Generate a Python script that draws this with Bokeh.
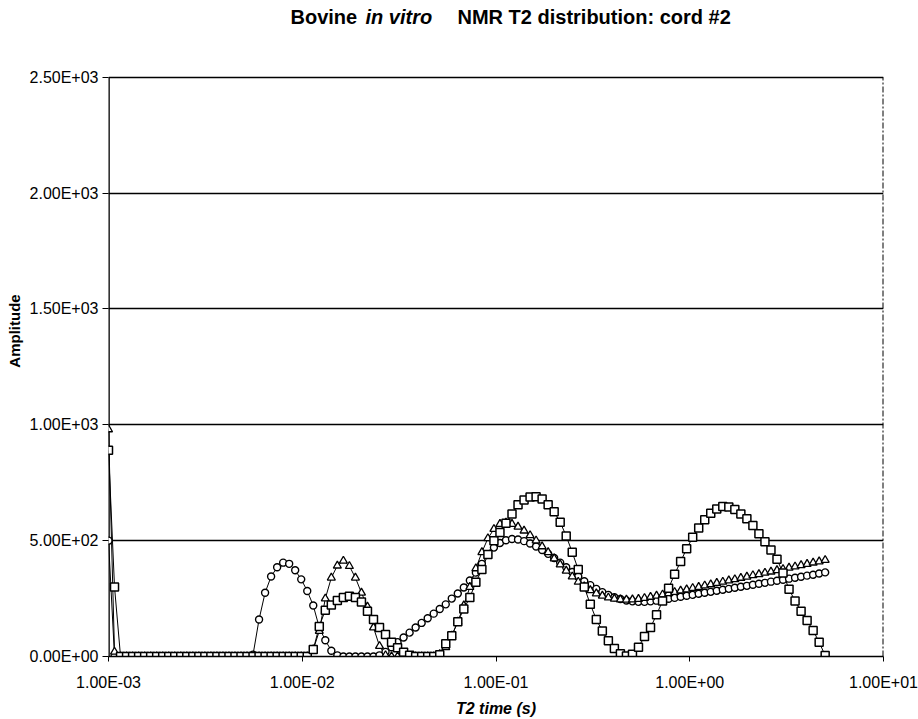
import numpy as np
from bokeh.plotting import figure
from bokeh.models import FixedTicker, ColumnDataSource
from bokeh.core.properties import value
from bokeh.embed import file_html
from bokeh.resources import INLINE

# T2 relaxation-time grid (log-spaced, 1 ms to 5 s)
t2_time = np.logspace(-3, np.log10(5.0), 120)

amp_circle = [
    500, 0,
    0, 0, 0, 0, 0, 0, 0, 0, 0, 0, 0, 0, 0, 0, 0, 0, 0, 0, 0, 0, 0, 0,
    8, 160, 275, 345, 385, 405, 400, 372, 333, 283, 220, 125, 70, 25, 5,
    0, 0, 0, 0, 0, 0,
    5, 20, 40, 62, 82, 103, 125, 145, 165, 185, 205, 225, 250, 272, 298,
    328, 362, 400, 440, 470, 490, 502, 507, 505, 498, 488, 475, 460, 443,
    425, 405, 385, 365, 345, 325, 308, 292, 278, 266, 256, 248, 242, 238,
    236, 236, 238, 241, 245, 249, 253, 258, 262, 266, 271, 275, 279, 284,
    288, 292, 297, 301, 305, 310, 314, 318, 323, 327, 331, 336, 340, 344,
    349, 353, 358, 363,
]

amp_triangle = [
    980, 20,
    0, 0, 0, 0, 0, 0, 0, 0, 0, 0, 0, 0, 0, 0, 0, 0, 0, 0, 0, 0, 0, 0,
    0, 0, 0, 0, 0, 0, 0, 0, 0, 0,
    30, 110, 250, 340, 392, 413, 390, 340, 275, 215, 125, 45, 5,
    0, 0, 0, 0, 0, 0, 0, 0,
    10, 40, 90, 150, 220, 300, 380, 450, 510, 550, 572, 578, 572, 560, 543,
    523, 500, 475, 450, 423, 397, 370, 345, 322, 302, 286, 272, 262, 254,
    249, 246, 245, 246, 248, 252, 257, 262, 267, 273, 278, 284, 289, 295,
    300, 306, 311, 317, 322, 328, 333, 339, 344, 350, 355, 361, 366, 372,
    377, 383, 388, 394, 399, 405, 410, 416,
]

amp_square = [
    890, 300,
    0, 0, 0, 0, 0, 0, 0, 0, 0, 0, 0, 0, 0, 0, 0, 0, 0, 0, 0, 0, 0, 0,
    0, 0, 0, 0, 0, 0, 0, 0, 0, 0,
    30, 130, 200, 222, 242, 255, 260, 255, 235, 195, 160, 125, 95, 62, 38,
    18, 5,
    0, 0, 0, 0,
    8, 55, 90, 150, 205, 255, 320, 375, 440, 500, 535, 575, 615, 655, 675,
    688, 690, 680, 655, 625, 580, 520, 450, 375, 300, 225, 160, 110, 68,
    35, 12, 2, 10, 40, 86, 125, 180, 240, 295, 355, 410, 465, 515, 555,
    590, 618, 637, 647, 645, 635, 615, 595, 565, 530, 495, 460, 420, 360,
    290, 240, 195, 155, 112, 62, 4,
]

x_tick_values = [1e-3, 1e-2, 1e-1, 1.0, 10.0]
x_tick_labels = ["1.00E-03", "1.00E-02", "1.00E-01", "1.00E+00", "1.00E+01"]
y_tick_values = [0, 500, 1000, 1500, 2000, 2500]
y_tick_labels = ["0.00E+00", "5.00E+02", "1.00E+03", "1.50E+03", "2.00E+03", "2.50E+03"]

X_MIN, X_MAX = 1e-3, 10.0
Y_TOP = 2500          # top of the plotted area
Y_FRAME_TOP = 2810    # frame extended upward to hold the title
TITLE_Y = 2760

src = ColumnDataSource(dict(t=t2_time, c=amp_circle, tr=amp_triangle, s=amp_square))

FONT = "Liberation Sans"

p = figure(width=918, height=719, x_axis_type="log", x_range=(X_MIN, X_MAX),
           y_range=(0, Y_FRAME_TOP), output_backend="svg", toolbar_location=None,
           min_border_left=108, min_border_right=35, min_border_top=5,
           min_border_bottom=61)
p.outline_line_color = None
p.background_fill_color = "white"
p.border_fill_color = "white"

p.xgrid.visible = False
p.ygrid.grid_line_color = "black"
p.ygrid.grid_line_width = 1.3

for ax in (p.xaxis, p.yaxis):
    ax.axis_line_color = "black"
    ax.axis_line_width = 1.3
    ax.major_tick_line_color = "black"
    ax.major_tick_in = 0
    ax.minor_tick_line_color = None
    ax.major_label_text_font = FONT
    ax.major_label_text_font_size = "16px"
    ax.major_label_text_color = "black"
    ax.axis_label_text_font = FONT
    ax.axis_label_text_font_style = "bold"
    ax.axis_label_text_color = "black"

p.xaxis.ticker = FixedTicker(ticks=x_tick_values)
p.xaxis.major_label_overrides = dict(zip(x_tick_values, x_tick_labels))
p.xaxis.major_tick_out = 5
p.xaxis.major_label_standoff = 12
p.xaxis.axis_label = "T2 time (s)"
p.xaxis.axis_label_text_font_style = "bold italic"
p.xaxis.axis_label_text_font_size = "16px"
p.xaxis.axis_label_standoff = 6

p.yaxis.ticker = FixedTicker(ticks=y_tick_values)
p.yaxis.major_label_overrides = dict(zip(y_tick_values, y_tick_labels))
p.yaxis.major_tick_out = 6
p.yaxis.major_label_standoff = 4
p.yaxis.axis_label = "Amplitude"
p.yaxis.axis_label_text_font_size = "15px"
p.yaxis.axis_label_standoff = 4
p.yaxis.axis_line_color = None

# left axis line and dashed right border, limited to the plotted area
p.segment(x0=[X_MIN], y0=[0], x1=[X_MIN], y1=[Y_TOP], line_color="black", line_width=2.6)
p.segment(x0=[X_MAX], y0=[0], x1=[X_MAX], y1=[Y_TOP], line_color="black",
          line_width=2, line_dash="6 2 2 2")

for col in ("c", "tr", "s"):
    p.line("t", col, source=src, line_color="black", line_width=1)

p.scatter("t", "c", source=src, marker="circle", size=7, fill_color="white",
          line_color="black", line_width=1.4)
p.scatter("t", "tr", source=src, marker="triangle", size=8, fill_color="white",
          line_color="black", line_width=1.3)
p.scatter("t", "s", source=src, marker="square", size=8, fill_color="white",
          line_color="black", line_width=1.5)

# title pieces (mixed bold / bold-italic)
title_parts = [("Bovine", "bold", 0.008697), ("in vitro", "bold italic", 0.02121),
               ("NMR T2 distribution: cord #2", "bold", 0.06327)]
for txt, style, xo in title_parts:
    p.text(x=[xo], y=[TITLE_Y], text=[txt], text_font=value(FONT),
           text_font_style=style, text_font_size="20px", text_color="black",
           text_baseline="alphabetic", text_align="left")

open("out.html", "w").write(file_html(p, INLINE))
